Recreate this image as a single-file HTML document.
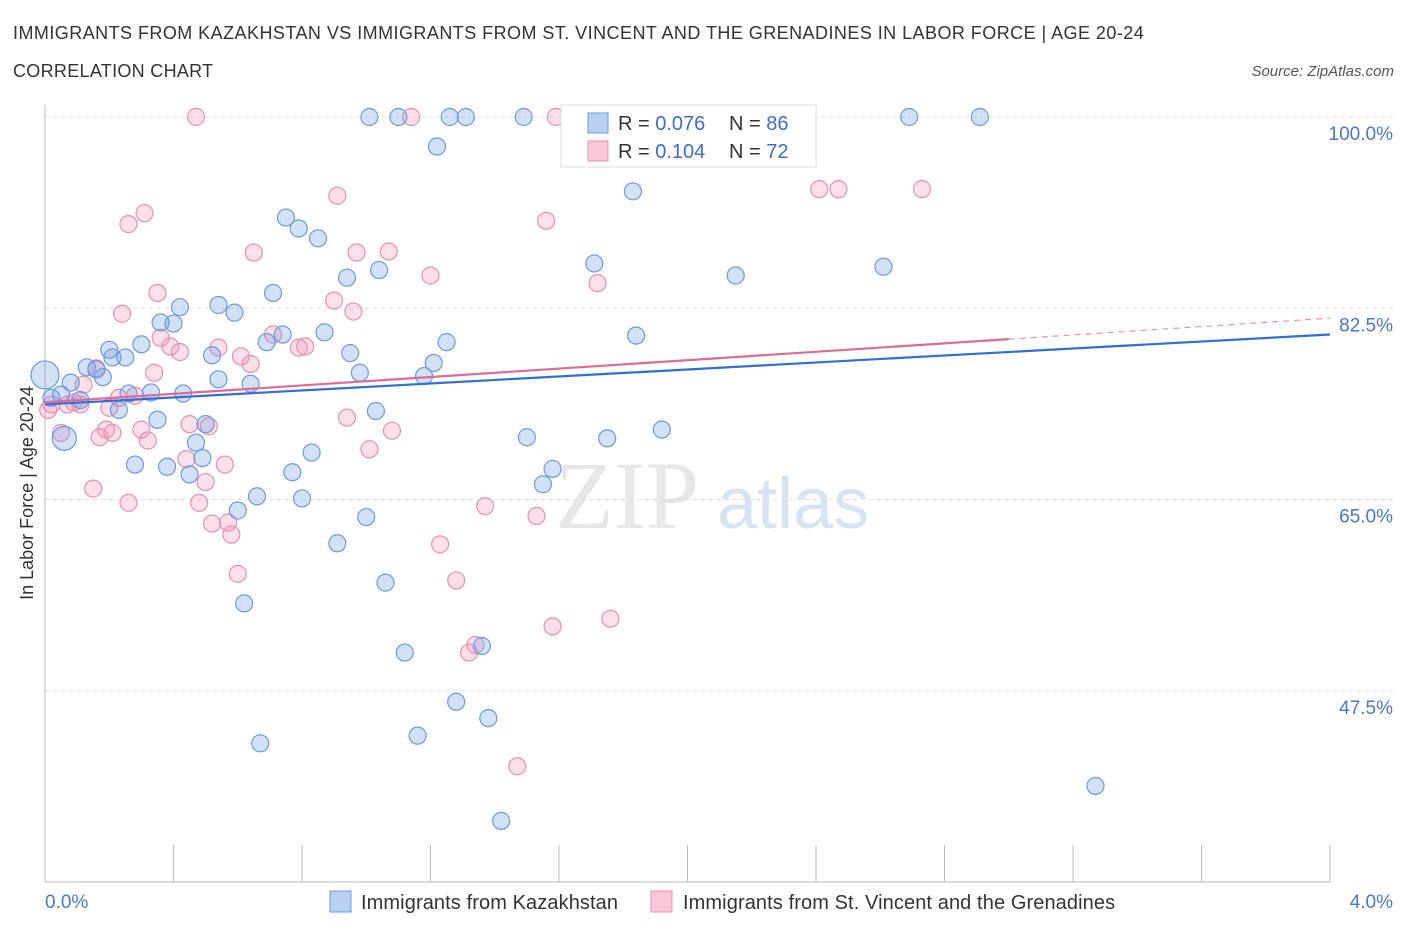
<!DOCTYPE html>
<html><head><meta charset="utf-8"><style>
body{margin:0;background:#fff;width:1406px;height:930px;overflow:hidden;font-family:"Liberation Sans",sans-serif}
</style></head><body>
<svg id="chart" width="1406" height="930" xmlns="http://www.w3.org/2000/svg" font-family="Liberation Sans, sans-serif">
<text x="13" y="39" font-size="18" fill="#333" letter-spacing="0.45">IMMIGRANTS FROM KAZAKHSTAN VS IMMIGRANTS FROM ST. VINCENT AND THE GRENADINES IN LABOR FORCE | AGE 20-24</text>
<text x="13" y="77" font-size="18" fill="#333" letter-spacing="0.3">CORRELATION CHART</text>
<text x="1394" y="76" font-size="15" fill="#555" font-style="italic" text-anchor="end">Source: ZipAtlas.com</text>
<text x="555" y="528" font-size="96" fill="#ddd" font-family="Liberation Serif, serif" opacity="0.7">ZIP</text>
<text x="717" y="528" font-size="72" fill="#c8d8ee" opacity="0.7">atlas</text>
<g id="grid"></g>
<g id="axes"></g>
<g id="pts"></g>
<g id="trend"></g>
<text transform="translate(33,493) rotate(-90)" font-size="18" fill="#333" text-anchor="middle">In Labor Force | Age 20-24</text>
<text x="45" y="908" font-size="19" fill="#4a78c8">0.0%</text>
<text x="1393" y="908" font-size="19" fill="#4a78c8" text-anchor="end">4.0%</text>
<g>
<rect x="561" y="105" width="255" height="62" fill="#fff" stroke="#ddd"/>
<rect x="588" y="113" width="20" height="20" fill="#b8d0f4" stroke="#6a9be0"/>
<text x="618" y="130" font-size="20" fill="#333">R = <tspan fill="#3a6fd0">0.076</tspan></text>
<text x="729" y="130" font-size="20" fill="#333">N = <tspan fill="#3a6fd0">86</tspan></text>
<rect x="588" y="141" width="20" height="20" fill="#f8c8d6" stroke="#e890ab"/>
<text x="618" y="158" font-size="20" fill="#333">R = <tspan fill="#3a6fd0">0.104</tspan></text>
<text x="729" y="158" font-size="20" fill="#333">N = <tspan fill="#3a6fd0">72</tspan></text>
</g>
<g>
<rect x="330" y="891" width="21" height="21" fill="#b8d0f4" stroke="#6a9be0"/>
<text x="361" y="909" font-size="20" fill="#333" letter-spacing="0.1">Immigrants from Kazakhstan</text>
<rect x="651" y="891" width="21" height="21" fill="#f8c8d6" stroke="#e890ab"/>
<text x="683" y="909" font-size="20" fill="#333" letter-spacing="0.1">Immigrants from St. Vincent and the Grenadines</text>
</g>
</svg>
<script>
const yTicks=[100,82.5,65,47.5];
const yTickLabels=["100.0%","82.5%","65.0%","47.5%"];
const xTicks=[0,0.4,0.8,1.2,1.6,2,2.4,2.8,3.2,3.6,4];
const blueX=[0,0.02,0.05,0.06,0.08,0.11,0.13,0.16,0.18,0.20,0.21,0.23,0.25,0.26,0.28,0.30,0.33,0.35,0.36,0.38,0.40,0.42,0.43,0.45,0.47,0.49,0.50,0.52,0.54,0.54,0.59,0.60,0.62,0.64,0.66,0.67,0.69,0.71,0.74,0.75,0.77,0.79,0.80,0.83,0.85,0.87,0.91,0.94,0.95,0.98,1.00,1.01,1.03,1.04,1.06,1.10,1.12,1.16,1.18,1.21,1.22,1.25,1.26,1.28,1.31,1.36,1.38,1.42,1.49,1.50,1.55,1.58,1.71,1.75,1.83,1.84,1.92,2.15,2.61,2.69,2.91,3.27];
const blueY=[76.4,74.3,74.6,70.6,75.7,74.1,77.1,76.9,76.2,78.7,78.0,73.2,78.0,74.7,68.2,79.2,74.8,72.3,81.2,68.0,81.1,82.6,74.7,67.3,70.2,68.8,71.9,78.2,76.0,82.8,82.1,64.0,55.5,75.6,65.3,42.7,79.4,83.9,80.1,90.8,67.5,89.8,65.1,69.3,88.9,80.3,61.0,85.3,78.4,76.6,63.4,100,73.1,86.0,57.4,100,51.0,43.4,76.3,77.5,97.3,79.4,100,46.5,100,51.6,45.0,35.6,100,70.7,66.4,67.8,86.6,70.6,93.2,80.0,71.4,85.5,86.3,100,100,38.8];
const blueBig=[0,3];
const pinkX=[0.01,0.02,0.05,0.07,0.09,0.11,0.12,0.15,0.16,0.17,0.19,0.20,0.21,0.23,0.24,0.26,0.26,0.28,0.30,0.31,0.32,0.34,0.35,0.36,0.39,0.42,0.44,0.45,0.47,0.48,0.50,0.51,0.52,0.54,0.56,0.57,0.58,0.60,0.61,0.64,0.65,0.71,0.79,0.81,0.90,0.91,0.94,0.96,0.97,1.01,1.07,1.08,1.14,1.20,1.23,1.28,1.34,1.32,1.37,1.47,1.53,1.56,1.58,1.59,1.72,1.76,2.41,2.47,2.73];
const pinkY=[73.2,73.7,71.1,73.7,73.9,73.7,75.5,66.0,77.0,70.7,71.4,73.4,71.1,74.3,82.0,64.7,90.2,74.5,71.4,91.2,70.4,76.6,83.9,79.8,79.0,78.5,68.7,71.9,100,64.7,66.6,71.7,62.8,78.9,68.2,62.9,61.8,58.2,78.1,77.4,87.6,80.1,78.9,79.0,83.2,92.8,72.5,82.2,87.6,69.6,87.7,71.3,100,85.5,60.9,57.6,51.7,51.0,64.4,40.6,63.5,90.5,53.4,100,84.8,54.1,93.4,93.4,93.4];
const blueTrend=[73.7,80.1];
const pinkTrend=[73.9,81.6];
const pinkSolidEnd=3.0;
const NS="http://www.w3.org/2000/svg";
const X0=45,X1=1330,Y100=117,PX_PER=10.93;
function sx(v){return X0+(X1-X0)*v/4;}
function sy(v){return Y100+(100-v)*PX_PER;}
function mk(tag,attrs,parent){const e=document.createElementNS(NS,tag);for(const k in attrs)e.setAttribute(k,attrs[k]);parent.appendChild(e);return e;}
const grid=document.getElementById('grid'),axes=document.getElementById('axes'),pts=document.getElementById('pts'),trend=document.getElementById('trend');
yTicks.forEach((t,i)=>{
 const l=mk('line',{x1:X0,x2:1394,y1:sy(t),y2:sy(t),stroke:'#ddd','stroke-dasharray':'4,4'},grid);
 
 
 const tx=mk('text',{x:1393,y:sy(t)+23,'font-size':19,fill:'#4a78c8','text-anchor':'end'},grid);
 tx.textContent=yTickLabels[i];
 
 
});
const ax=mk('line',{x1:X0,x2:X1,y1:882,y2:882,stroke:'#bbb'},axes);


const ay=mk('line',{x1:X0,x2:X0,y1:105,y2:882,stroke:'#bbb'},axes);


xTicks.forEach(t=>{
 const l=mk('line',{x1:sx(t),x2:sx(t),y1:845,y2:882,stroke:'#bbb'},axes);
 
 
});
function drawPts(xs,ys,fill,stroke,name,big){
 xs.forEach((x,i)=>{
  const r=big&&big.includes(i)?(i===0?14:12):8.5;
  const c=mk('circle',{cx:sx(x),cy:sy(ys[i]),r:r,fill:fill,stroke:stroke,'stroke-width':1.2},pts);
  
  
 });
}
drawPts(pinkX,pinkY,'rgba(244,150,180,0.3)','#e890ab','point-st-vincent');
drawPts(blueX,blueY,'rgba(110,155,230,0.3)','#6a9be0','point-kazakhstan',blueBig);
const bt=mk('line',{x1:sx(0),y1:sy(blueTrend[0]),x2:sx(4),y2:sy(blueTrend[1]),stroke:'#2f6fd6','stroke-width':2.2},trend);


const pm=pinkTrend[0]+(pinkTrend[1]-pinkTrend[0])*pinkSolidEnd/4;
const pt=mk('line',{x1:sx(0),y1:sy(pinkTrend[0]),x2:sx(pinkSolidEnd),y2:sy(pm),stroke:'#e06a95','stroke-width':2.2},trend);


const pd=mk('line',{x1:sx(pinkSolidEnd),y1:sy(pm),x2:sx(4),y2:sy(pinkTrend[1]),stroke:'#e890ab','stroke-width':1.2,'stroke-dasharray':'6,5'},trend);


</script>
</body></html>
